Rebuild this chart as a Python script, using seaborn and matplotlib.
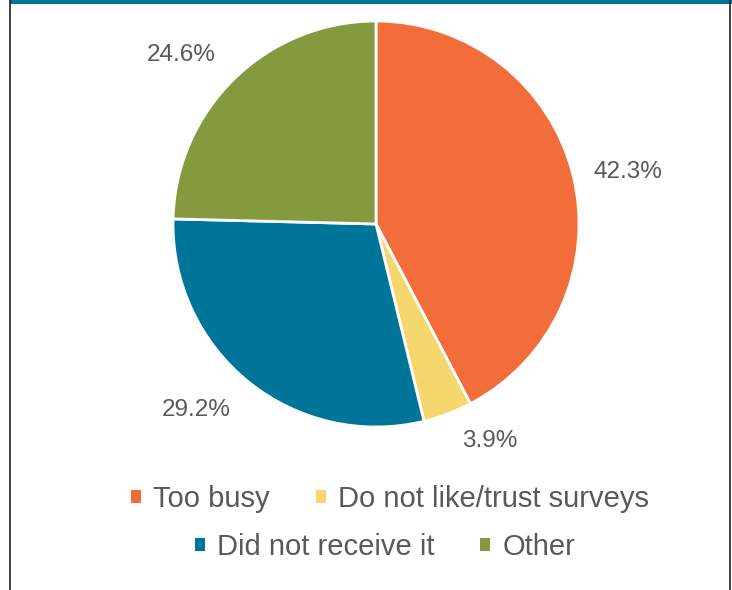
import matplotlib
matplotlib.use("Agg")
import matplotlib.pyplot as plt
from matplotlib.patches import Rectangle, Patch
import seaborn as sns

categories = ["Too busy", "Do not like/trust surveys", "Did not receive it", "Other"]
values = [42.3, 3.9, 29.2, 24.6]
colors = ["#F26D3A", "#F5D76E", "#00759A", "#85993F"]

sns.set_theme(style="white")
plt.rcParams["font.family"] = ["Liberation Sans", "DejaVu Sans"]

W, H = 732, 590
fig = plt.figure(figsize=(W / 100, H / 100), dpi=100)
ax = fig.add_axes([0, 0, 1, 1])

text_color = "#595959"

wedges, texts, autotexts = ax.pie(
    values,
    colors=colors,
    startangle=90,
    counterclock=False,
    center=(376, H - 224),
    radius=203,
    autopct="%.1f%%",
    pctdistance=1.25,
    wedgeprops=dict(edgecolor="white", linewidth=2),
    textprops=dict(fontsize=17.5, color=text_color),
    frame=True,
)
ax.set_xlim(0, W)
ax.set_ylim(0, H)
ax.set_aspect("equal")
ax.axis("off")

# label placement (layout, pixel coords from top)
label_pos = [(628, 172), (490, 441), (196, 410), (181, 55)]
for t, (x, y) in zip(autotexts, label_pos):
    t.set_position((x, H - y))
    t.set_ha("center")
    t.set_va("center")

# frame decorations
ax.add_patch(Rectangle((10, H - 4), W - 10, 4, color="#00759A", lw=0, clip_on=False))
ax.plot([10, 10], [0, H], color="#222222", lw=1.2, clip_on=False)
ax.plot([730, 730], [0, H], color="#222222", lw=1.2, clip_on=False)

handles = [Patch(facecolor=c, edgecolor="none") for c in colors]
common = dict(
    frameon=False, fontsize=21, handlelength=0.34, handleheight=0.34,
    handletextpad=0.41, columnspacing=1.58, ncol=2, loc="center",
    labelcolor=text_color, borderpad=0,
)
leg1 = ax.legend(handles[:2], categories[:2], bbox_to_anchor=(390 / W, 1 - 499 / H),
                 bbox_transform=fig.transFigure, **common)
ax.add_artist(leg1)
leg2 = ax.legend(handles[2:], categories[2:], bbox_to_anchor=(385 / W, 1 - 547 / H),
                 bbox_transform=fig.transFigure, **common)

fig.savefig("out.png", dpi=100, facecolor="white")
